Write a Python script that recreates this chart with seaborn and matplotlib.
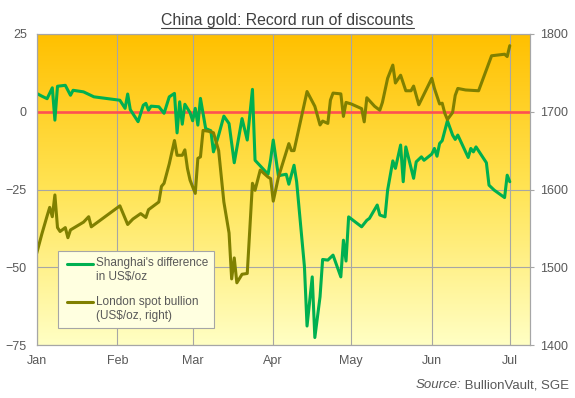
import numpy as np
import pandas as pd
import matplotlib
matplotlib.use("Agg")
import matplotlib.pyplot as plt
import matplotlib.dates as mdates
from matplotlib.colors import LinearSegmentedColormap
from matplotlib.patches import Rectangle
from matplotlib.lines import Line2D
import seaborn as sns


# DADOS

premio_datas = [
    "2020-01-01", "2020-01-03", "2020-01-05", "2020-01-07", "2020-01-08", "2020-01-09",
    "2020-01-12", "2020-01-14", "2020-01-15", "2020-01-19", "2020-01-23", "2020-02-02",
    "2020-02-04", "2020-02-05", "2020-02-06", "2020-02-09", "2020-02-11", "2020-02-12",
    "2020-02-13", "2020-02-14", "2020-02-17", "2020-02-19", "2020-02-21", "2020-02-23",
    "2020-02-24", "2020-02-25", "2020-02-26", "2020-02-27", "2020-02-29", "2020-03-01",
    "2020-03-02", "2020-03-03", "2020-03-04", "2020-03-06", "2020-03-08", "2020-03-09",
    "2020-03-11", "2020-03-13", "2020-03-15", "2020-03-17", "2020-03-20", "2020-03-22",
    "2020-03-24", "2020-03-25", "2020-03-30", "2020-03-31", "2020-04-01", "2020-04-03",
    "2020-04-04", "2020-04-06", "2020-04-07", "2020-04-09", "2020-04-10", "2020-04-13",
    "2020-04-14", "2020-04-16", "2020-04-17", "2020-04-19", "2020-04-20", "2020-04-22",
    "2020-04-24", "2020-04-27", "2020-04-28", "2020-04-29", "2020-04-30", "2020-05-05",
    "2020-05-07", "2020-05-08", "2020-05-11", "2020-05-12", "2020-05-14", "2020-05-15",
    "2020-05-17", "2020-05-18", "2020-05-20", "2020-05-21", "2020-05-22", "2020-05-25",
    "2020-05-26", "2020-05-28", "2020-05-29", "2020-06-01", "2020-06-02", "2020-06-03",
    "2020-06-04", "2020-06-05", "2020-06-07", "2020-06-09", "2020-06-10", "2020-06-11",
    "2020-06-15", "2020-06-16", "2020-06-17", "2020-06-18", "2020-06-22", "2020-06-23",
    "2020-06-25", "2020-06-29", "2020-06-30", "2020-07-01",
]
premio_usd = [
    5.9, 5.0, 4.2, 7.7, -2.7, 8.2, 8.5, 5.3, 6.9, 6.4, 4.8, 3.7, 1.1, 5.7, 0.7, -3.2,
    2.1, 2.7, 0.5, 1.8, 1.6, -0.5, 4.8, 5.9, -6.8, 3.2, -4.0, 2.4, -0.3, -2.9, 1.1,
    -4.3, 4.3, -5.4, -6.1, -12.9, -7.5, -1.4, -3.8, -16.4, -2.2, -9.1, 7.2, -15.6,
    -20.1, -15.3, -9.1, -20.7, -20.4, -20.1, -23.3, -17.2, -22.5, -49.8, -68.9, -53.1,
    -72.6, -59.5, -47.5, -47.7, -46.1, -53.1, -41.3, -48.0, -33.8, -37.0, -34.9, -34.3,
    -30.0, -33.2, -33.8, -25.2, -15.8, -18.2, -10.7, -22.5, -11.3, -21.4, -16.1, -14.5,
    -15.6, -13.6, -11.8, -14.3, -10.2, -9.3, -2.9, -7.5, -8.9, -7.5, -14.7, -11.8,
    -12.9, -11.3, -16.4, -23.6, -25.2, -27.6, -20.4, -22.5,
]

ouro_datas = [
    "2020-01-01", "2020-01-03", "2020-01-05", "2020-01-06", "2020-01-07", "2020-01-08",
    "2020-01-09", "2020-01-10", "2020-01-12", "2020-01-13", "2020-01-14", "2020-01-19",
    "2020-01-21", "2020-01-22", "2020-02-02", "2020-02-05", "2020-02-07", "2020-02-10",
    "2020-02-12", "2020-02-13", "2020-02-15", "2020-02-17", "2020-02-18", "2020-02-19",
    "2020-02-21", "2020-02-22", "2020-02-23", "2020-02-24", "2020-02-26", "2020-02-27",
    "2020-02-28", "2020-02-29", "2020-03-02", "2020-03-03", "2020-03-04", "2020-03-05",
    "2020-03-07", "2020-03-09", "2020-03-11", "2020-03-13", "2020-03-15", "2020-03-16",
    "2020-03-17", "2020-03-18", "2020-03-20", "2020-03-22", "2020-03-24", "2020-03-25",
    "2020-03-27", "2020-03-30", "2020-03-31", "2020-04-01", "2020-04-03", "2020-04-07",
    "2020-04-08", "2020-04-09", "2020-04-14", "2020-04-17", "2020-04-19", "2020-04-20",
    "2020-04-22", "2020-04-23", "2020-04-24", "2020-04-27", "2020-04-28", "2020-04-29",
    "2020-05-01", "2020-05-05", "2020-05-06", "2020-05-07", "2020-05-10", "2020-05-12",
    "2020-05-13", "2020-05-15", "2020-05-17", "2020-05-18", "2020-05-20", "2020-05-22",
    "2020-05-24", "2020-05-25", "2020-05-27", "2020-06-01", "2020-06-02", "2020-06-04",
    "2020-06-05", "2020-06-06", "2020-06-07", "2020-06-09", "2020-06-10", "2020-06-11",
    "2020-06-14", "2020-06-19", "2020-06-22", "2020-06-24", "2020-06-29", "2020-06-30",
    "2020-07-01",
]
ouro_usd = [
    1518, 1543, 1566, 1577, 1565, 1593, 1551, 1546, 1551, 1538, 1548, 1558, 1565, 1552,
    1579, 1555, 1562, 1569, 1564, 1574, 1579, 1584, 1604, 1608, 1633, 1648, 1663, 1644,
    1644, 1651, 1627, 1612, 1595, 1640, 1642, 1676, 1675, 1673, 1650, 1584, 1544, 1485,
    1512, 1480, 1491, 1492, 1608, 1599, 1625, 1616, 1614, 1585, 1616, 1659, 1650, 1650,
    1726, 1707, 1683, 1688, 1685, 1715, 1724, 1723, 1694, 1712, 1710, 1704, 1687, 1718,
    1707, 1702, 1712, 1743, 1760, 1737, 1747, 1727, 1727, 1733, 1709, 1743, 1730, 1710,
    1711, 1698, 1690, 1699, 1721, 1730, 1728, 1727, 1754, 1772, 1774, 1771, 1785,
]

meses_lbl = ["Jan", "Feb", "Mar", "Apr", "May", "Jun", "Jul"]

df_premio = pd.DataFrame({"data": pd.to_datetime(premio_datas), "premio": premio_usd})
df_ouro = pd.DataFrame({"data": pd.to_datetime(ouro_datas), "ouro": ouro_usd})


# ESTILO

sns.set_style("white")
plt.rcParams["font.family"] = ["Liberation Sans", "DejaVu Sans"]
cinza = "#A6A6A6"
texto = "#595959"
verde = "#00B050"
oliva = "#808000"

fig = plt.figure(figsize=(5.75, 3.98), dpi=100)
W, H = 575, 398
ax = fig.add_axes([36.7 / W, 1 - 345 / H, (529.5 - 36.7) / W, (345 - 34) / H])

# fundo em degradê (laranja no topo, amarelo claro embaixo)
cmap = LinearSegmentedColormap.from_list("ouro", ["#FFC000", "#FFE455", "#FFFFC4"])
grad = np.linspace(0, 1, 256).reshape(-1, 1)
ax.imshow(grad, extent=[0, 1, 0, 1], transform=ax.transAxes, aspect="auto",
          cmap=cmap, zorder=0)

# linha do prêmio (eixo esquerdo)
ax.axhline(0, color="#FF5050", lw=1.9, zorder=1.5)
sns.lineplot(data=df_premio, x="data", y="premio", ax=ax, color=verde, lw=2.2,
             zorder=2)

# ouro em Londres (eixo direito)
ax2 = ax.twinx()
sns.lineplot(data=df_ouro, x="data", y="ouro", ax=ax2, color=oliva, lw=2.2)

x0, x1 = pd.Timestamp("2020-01-01"), pd.Timestamp("2020-07-08 14:00")
ax.set_xlim(x0, x1)
ax.set_ylim(-75, 25)
ax2.set_ylim(1400, 1800)
ax.set_yticks([-75, -50, -25, 0, 25])
ax2.set_yticks([1400, 1500, 1600, 1700, 1800])
ax.xaxis.set_major_locator(mdates.MonthLocator())
ax.set_xticks(pd.date_range("2020-01-01", "2020-07-01", freq="MS"))
ax.set_xticklabels(meses_lbl)

ax.grid(True, color=cinza, lw=0.8)
ax.set_axisbelow(True)
for a in (ax, ax2):
    a.set_xlabel("")
    a.set_ylabel("")
    for s in a.spines.values():
        s.set_color(cinza)
        s.set_linewidth(0.8)
ax.tick_params(axis="y", length=0, pad=7, labelsize=9, labelcolor=texto)
ax.tick_params(axis="x", length=2, color=cinza, pad=5, labelsize=9, labelcolor=texto)
ax2.tick_params(axis="y", length=3, color=cinza, pad=4.5, labelsize=9, labelcolor=texto)

# legenda manual (linha alinhada à primeira linha do texto)
ax2.add_patch(Rectangle((0.0432, 0.0547), 0.3166, 0.2476, transform=ax2.transAxes,
                        facecolor="#FFFFE0", edgecolor=cinza, lw=0.8, zorder=5))
itens = [(verde, "Shanghai's difference\nin US$/oz", 0.2605, 0.2412),
         (oliva, "London spot bullion\n(US$/oz, right)", 0.1383, 0.1158)]
for cor, rotulo, yl, yt in itens:
    ax2.add_line(Line2D([0.0615, 0.1143], [yl, yl], transform=ax2.transAxes,
                        color=cor, lw=2.2, zorder=6))
    ax2.text(0.1204, yt, rotulo, transform=ax2.transAxes, va="center", ha="left",
             fontsize=8.5, color=texto, linespacing=1.2, zorder=6)

# título sublinhado
tit = fig.text(0.5, 1 - 25 / H, "China gold: Record run of discounts", ha="center",
               va="baseline", fontsize=11.4, color="#404040")
fig.canvas.draw()
r = fig.canvas.get_renderer()
bb = tit.get_window_extent(r)
fig.add_artist(Line2D([bb.x0 / W, bb.x1 / W], [1 - 27.5 / H, 1 - 27.5 / H],
                      color="#404040", lw=0.8))

# fonte
fonte = fig.text(569 / W, 1 - 388 / H, " BullionVault, SGE", ha="right",
                 va="baseline", fontsize=9.5, color=texto)
bb2 = fonte.get_window_extent(r)
fig.text(bb2.x0 / W, 1 - 388 / H, "Source:", ha="right", va="baseline",
         fontsize=9.5, color=texto, style="italic")

fig.savefig("out.png", dpi=100, facecolor="white")
